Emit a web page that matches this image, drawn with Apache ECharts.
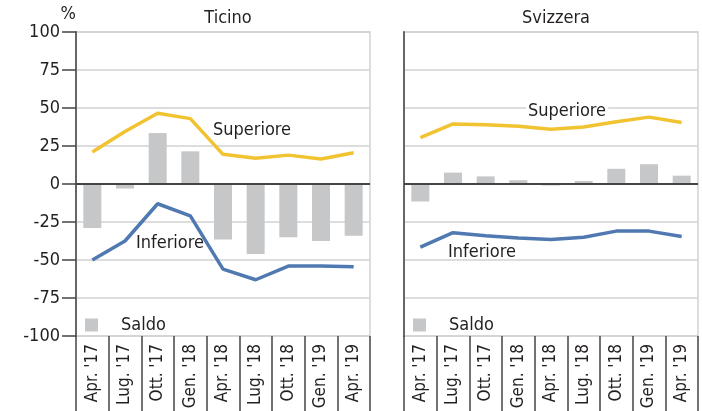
<!DOCTYPE html>
<html>
<head>
<meta charset="utf-8">
<script src="https://cdn.jsdelivr.net/npm/echarts@6/dist/echarts.min.js"></script>
<style>
  html, body { margin: 0; padding: 0; background: #fff; }
  #chart { width: 702px; height: 411px; }
</style>
</head>
<body>
<div id="chart"></div>
<script>
// periodi
const categories = ["Apr. '17", "Lug. '17", "Ott. '17", "Gen. '18", "Apr. '18", "Lug. '18", "Ott. '18", "Gen. '19", "Apr. '19"];

// Ticino
const ticinoSuperiore = [21, 34.5, 46.5, 43, 19.5, 17, 19, 16.5, 20.5];
const ticinoInferiore = [-50, -37.5, -13, -21, -56, -63, -54, -54, -54.5];
const ticinoSaldo = [-29, -3, 33.5, 21.5, -36.5, -46, -35, -37.5, -34];

// Svizzera
const svizzeraSuperiore = [30.5, 39.5, 39, 38, 36, 37.5, 41, 44, 40.5];
const svizzeraInferiore = [-41.5, -32, -34, -35.5, -36.5, -35, -31, -31, -34.5];
const svizzeraSaldo = [-11.5, 7.5, 5, 2.5, -1, 2, 10, 13, 5.5];

const FONT = '"DejaVu Sans Condensed", "Liberation Sans Narrow", sans-serif';
const FS = 18;
const YELLOW = '#f2c330';
const BLUE = '#4f79b0';
const GREY = '#c6c7c9';
const TXT = '#231f20';

const chart = echarts.init(document.getElementById('chart'));

function xAx(gridIndex) {
  return {
    type: 'category',
    gridIndex: gridIndex,
    data: categories,
    boundaryGap: true,
    axisLine: { show: false, onZero: false },
    axisTick: { show: true, interval: 0, length: 75, lineStyle: { color: '#444', width: 1.5 } },
    axisLabel: { interval: 0, rotate: 90, margin: 8, fontSize: 17, color: TXT, fontFamily: FONT }
  };
}

function yAx(gridIndex, withLabels) {
  return {
    type: 'value',
    gridIndex: gridIndex,
    min: -100,
    max: 100,
    interval: 25,
    name: withLabels ? '%' : '',
    nameLocation: 'end',
    nameGap: -1,
    nameTextStyle: { align: 'right', fontSize: FS, color: TXT, fontFamily: FONT },
    axisLine: { show: true, lineStyle: { color: '#666', width: 2 } },
    axisTick: { show: withLabels, length: 14, lineStyle: { color: '#444', width: 1.5 } },
    axisLabel: { show: withLabels, margin: 16, fontSize: FS, color: TXT, fontFamily: FONT },
    splitLine: { show: true, lineStyle: { color: '#d2d2d2', width: 1.5 } }
  };
}

function barSeries(idx, data) {
  return {
    name: 'Saldo',
    type: 'bar',
    xAxisIndex: idx,
    yAxisIndex: idx,
    data: data,
    barWidth: 18,
    itemStyle: { color: GREY },
    markLine: {
      silent: true,
      symbol: 'none',
      label: { show: false },
      lineStyle: { color: '#444', width: 2, type: 'solid' },
      data: [{ yAxis: 0 }]
    }
  };
}

function lineSeries(idx, name, data, color) {
  return {
    name: name,
    type: 'line',
    xAxisIndex: idx,
    yAxisIndex: idx,
    data: data,
    symbol: 'none',
    lineStyle: { color: color, width: 3.5 },
    itemStyle: { color: color }
  };
}

// etichette delle linee (bg: fondo bianco sopra la griglia)
function txt(x, y, s, bg) {
  return {
    type: 'text', x: x, y: y, z: 10,
    style: { text: s, fill: TXT, font: FS + 'px ' + FONT, verticalAlign: 'middle', backgroundColor: bg ? '#fff' : 'transparent', padding: [0, 2] }
  };
}

const legendBase = {
  data: ['Saldo'],
  icon: 'rect',
  itemWidth: 13,
  itemHeight: 13,
  padding: 0,
  selectedMode: false,
  textStyle: { fontSize: FS, color: TXT, fontFamily: FONT, padding: [0, 0, 0, 18] }
};

chart.setOption({
  animation: false,
  textStyle: { fontFamily: FONT },
  title: [
    { text: 'Ticino', left: 223, top: 4, textAlign: 'center', textStyle: { fontSize: FS, fontWeight: 'normal', color: TXT, fontFamily: FONT } },
    { text: 'Svizzera', left: 551, top: 4, textAlign: 'center', textStyle: { fontSize: FS, fontWeight: 'normal', color: TXT, fontFamily: FONT } }
  ],
  legend: [
    Object.assign({}, legendBase, { left: 85, top: 316 }),
    Object.assign({}, legendBase, { left: 413, top: 316 })
  ],
  grid: [
    { left: 76, right: 332, top: 32, bottom: 75, outerBoundsMode: 'none', containLabel: false, show: true, borderColor: '#d2d2d2', borderWidth: 1.5 },
    { left: 404, right: 4, top: 32, bottom: 75, outerBoundsMode: 'none', containLabel: false, show: true, borderColor: '#d2d2d2', borderWidth: 1.5 }
  ],
  xAxis: [xAx(0), xAx(1)],
  yAxis: [yAx(0, true), yAx(1, false)],
  series: [
    barSeries(0, ticinoSaldo),
    lineSeries(0, 'Superiore', ticinoSuperiore, YELLOW),
    lineSeries(0, 'Inferiore', ticinoInferiore, BLUE),
    barSeries(1, svizzeraSaldo),
    lineSeries(1, 'Superiore', svizzeraSuperiore, YELLOW),
    lineSeries(1, 'Inferiore', svizzeraInferiore, BLUE)
  ],
  graphic: [
    txt(211, 130, 'Superiore', false),
    txt(134, 243, 'Inferiore', false),
    txt(526, 111, 'Superiore', true),
    txt(446, 252, 'Inferiore', false)
  ]
});
</script>
</body>
</html>
